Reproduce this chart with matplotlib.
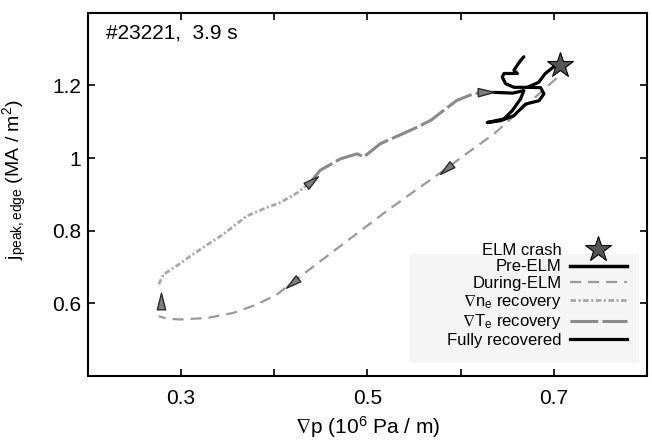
"""Edge current vs pressure gradient over one ELM cycle."""
import numpy as np
import matplotlib; matplotlib.use("Agg")
import matplotlib.pyplot as plt
from matplotlib.lines import Line2D
from matplotlib.path import Path
from matplotlib.patches import Rectangle

plt.rcParams["font.family"] = ["Liberation Sans", "DejaVu Sans"]
plt.rcParams["mathtext.fontset"] = "custom"
plt.rcParams["mathtext.rm"] = "Liberation Sans"
plt.rcParams["mathtext.it"] = "Liberation Sans:italic"
plt.rcParams["mathtext.default"] = "regular"
plt.rcParams["mathtext.fallback"] = "stixsans"
plt.rcParams["lines.scale_dashes"] = False

# ---- data (grad p in 1e6 Pa/m, j in MA/m^2) ----
crash_x, crash_y = [0.707], [1.257]
pre_x = [0.672, 0.684, 0.691, 0.699, 0.705]
pre_y = [1.195, 1.209, 1.233, 1.249, 1.258]
during_x = [0.703, 0.690, 0.672, 0.650, 0.636, 0.610, 0.584, 0.552, 0.521, 0.490,
            0.455, 0.419, 0.403, 0.381, 0.356, 0.328, 0.299, 0.285, 0.276]
during_y = [1.220, 1.190, 1.149, 1.099, 1.067, 1.019, 0.970, 0.912, 0.855, 0.795,
            0.727, 0.657, 0.625, 0.597, 0.574, 0.560, 0.556, 0.558, 0.565]
ne_x = [0.276, 0.281, 0.295, 0.313, 0.330, 0.3455, 0.3706, 0.390, 0.4065, 0.425, 0.440]
ne_y = [0.653, 0.680, 0.703, 0.736, 0.765, 0.791, 0.841, 0.862, 0.878, 0.905, 0.937]
te_x = [0.440, 0.449, 0.471, 0.489, 0.496, 0.514, 0.550, 0.568, 0.596, 0.615, 0.628]
te_y = [0.937, 0.966, 0.998, 1.012, 1.003, 1.040, 1.081, 1.104, 1.159, 1.178, 1.182]
full_x = [0.636, 0.656, 0.668, 0.6645, 0.6556, 0.6466, 0.6287, 0.643, 0.6573, 0.6699, 0.6842,
          0.6896, 0.686, 0.6716, 0.6573, 0.6484, 0.6448, 0.6466, 0.661, 0.6573, 0.6645, 0.668]
full_y = [1.181, 1.179, 1.186, 1.163, 1.131, 1.108, 1.098, 1.103, 1.117, 1.149, 1.158,
          1.177, 1.194, 1.195, 1.195, 1.205, 1.223, 1.233, 1.233, 1.242, 1.269, 1.279]
# direction arrows: position and travel direction
arr_x = [0.584, 0.419, 0.278, 0.440, 0.627]
arr_y = [0.970, 0.657, 0.607, 0.937, 1.182]
arr_dx = [-0.012, -0.010, 0.0, 0.0043, 0.010]
arr_dy = [-0.025, -0.020, 0.010, 0.0088, 0.0005]

LGRAY, MGRAY, DGRAY = "#a8a8a8", "#9a9a9a", "#8a8a8a"
S_DUR, S_NE, S_TE = (8, 5), (4, 1.8, 1.5, 1.8), (20, 3)

fig = plt.figure(figsize=(6.52, 4.42), dpi=100)
ax = fig.add_axes([0.135, 0.149, 0.857, 0.822])
ax.set_xlim(0.2, 0.8); ax.set_ylim(0.4, 1.4)

ax.add_patch(Rectangle((0.576, 0.035), 0.41, 0.30, transform=ax.transAxes,
                       color="#f5f5f5", lw=0, zorder=0))

ax.plot(during_x, during_y, color=MGRAY, lw=1.6, dashes=S_DUR)
ax.plot(ne_x, ne_y, color=LGRAY, lw=2.0, dashes=S_NE)
ax.plot(te_x, te_y, color=DGRAY, lw=2.2, dashes=S_TE)
ax.plot(full_x, full_y, color="black", lw=2.3, solid_capstyle="round", solid_joinstyle="round")
ax.plot(pre_x, pre_y, color="black", lw=2.3, solid_capstyle="round")

# arrow heads as rotated triangle markers
tri = np.array([[1.0, 0.0], [-1.0, 0.5], [-1.0, -0.5], [1.0, 0.0]])
for x, y, dx, dy in zip(arr_x, arr_y, arr_dx, arr_dy):
    p0 = ax.transData.transform((x, y)); p1 = ax.transData.transform((x + dx, y + dy))
    a = np.arctan2(p1[1] - p0[1], p1[0] - p0[0])
    R = np.array([[np.cos(a), -np.sin(a)], [np.sin(a), np.cos(a)]])
    m = Path(tri @ R.T, [Path.MOVETO, Path.LINETO, Path.LINETO, Path.CLOSEPOLY])
    ax.plot([x], [y], marker=m, ms=12, mfc="#7d7d7d", mec="#2a2a2a", mew=1.0, ls="none", zorder=4)

ax.plot(crash_x, crash_y, marker="*", ms=19, mfc="#555555", mec="black", mew=0.8, ls="none", zorder=5)

ax.text(0.032, 0.945, "#23221,  3.9 s", transform=ax.transAxes, fontsize=15, va="center")

ax.set_xticks([0.3, 0.4, 0.5, 0.6, 0.7]); ax.set_xticklabels(["0.3", "", "0.5", "", "0.7"])
ax.set_yticks([0.6, 0.8, 1.0, 1.2]); ax.set_yticklabels(["0.6", "0.8", "1", "1.2"])
ax.tick_params(direction="in", top=True, right=True, length=5, width=1.2, labelsize=15)
ax.tick_params(axis="x", pad=9.5)
ax.tick_params(axis="y", pad=5)
for s in ax.spines.values():
    s.set_linewidth(1.5)
ax.set_xlabel(r"$\nabla$p (10$^6$ Pa / m)", fontsize=15, labelpad=4)
ax.set_ylabel(r"j$_\mathrm{peak,edge}$ (MA / m$^2$)", fontsize=14)
ax.yaxis.set_label_coords(-0.105, 0.54)

handles = [
    Line2D([], [], marker="*", ms=19, mfc="#555555", mec="black", mew=0.8, ls="none"),
    Line2D([], [], color="black", lw=2.5),
    Line2D([], [], color=MGRAY, lw=1.6, dashes=S_DUR),
    Line2D([], [], color=LGRAY, lw=2.0, dashes=S_NE),
    Line2D([], [], color=DGRAY, lw=2.2, dashes=S_TE),
    Line2D([], [], color="black", lw=2.3),
]
labels = ["ELM crash", "Pre-ELM", "During-ELM", r"$\nabla$n$_\mathrm{e}$ recovery",
          r"$\nabla$T$_\mathrm{e}$ recovery", "Fully recovered"]
ax.legend(handles, labels, loc="lower right", bbox_to_anchor=(0.985, 0.045), frameon=False,
          markerfirst=False, fontsize=12, handlelength=3.4, handletextpad=0.5,
          labelspacing=0.1, borderpad=0.2)

fig.savefig("out.png", dpi=100)
